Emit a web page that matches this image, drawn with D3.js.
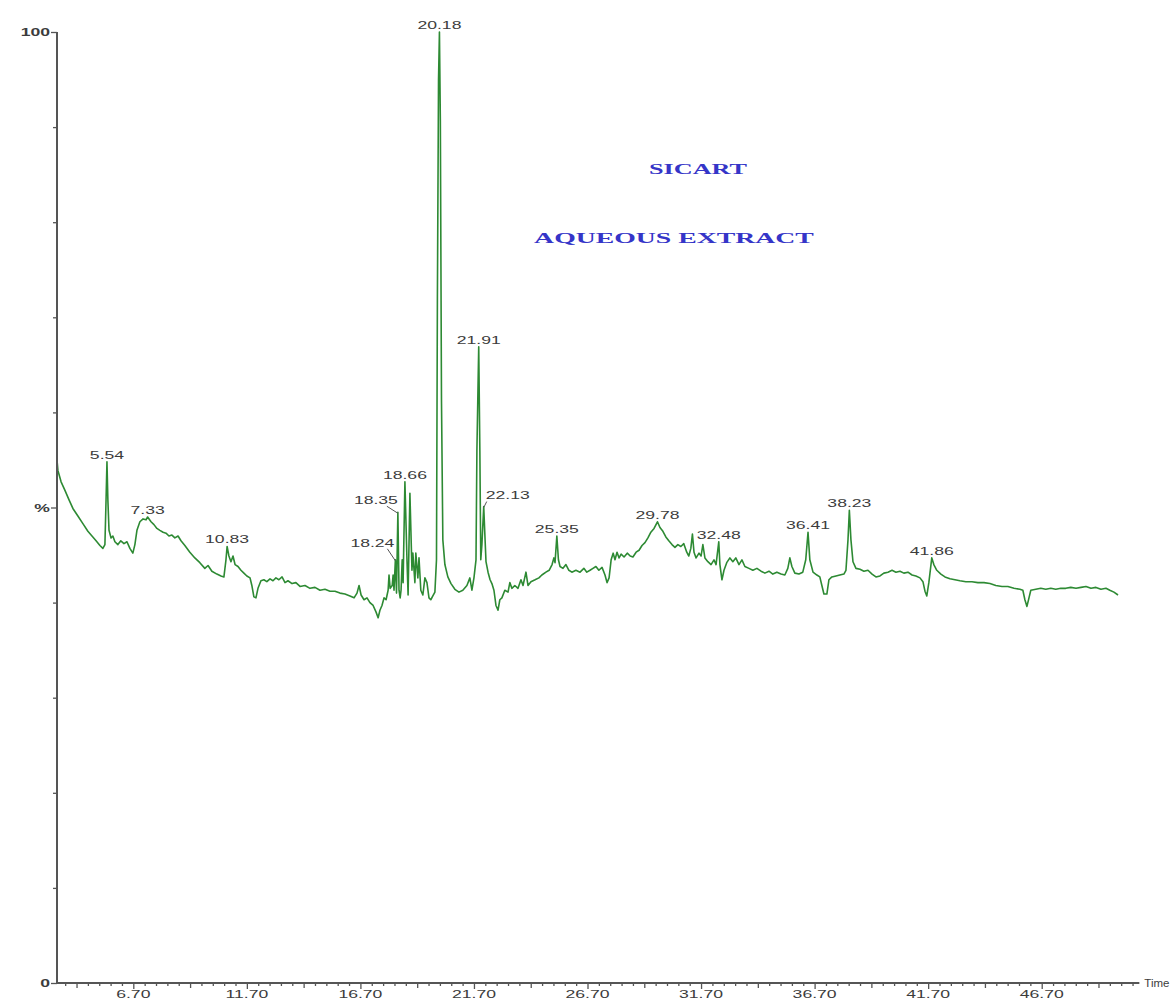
<!DOCTYPE html>
<html>
<head>
<meta charset="utf-8">
<script src="https://cdn.jsdelivr.net/npm/d3@7"></script>
<style>
  html, body { margin: 0; padding: 0; background: #fff; }
  svg { display: block; }
</style>
</head>
<body>
<svg id="chart" width="1170" height="1000"></svg>
<script>
// Total ion chromatogram: retention time (min) vs relative abundance (%)
const trace = [
  [3.34,55.0],[3.38,53.9],[3.52,52.7],[3.69,51.8],[3.87,50.8],[4.04,49.9],[4.26,49.1],[4.48,48.3],
  [4.70,47.5],[4.88,47.0],[5.06,46.5],[5.23,46.0],[5.36,45.7],[5.45,46.1],[5.50,50.8],[5.54,54.8],
  [5.58,50.8],[5.63,47.6],[5.72,46.8],[5.80,47.0],[5.89,46.4],[6.02,46.1],[6.15,46.5],[6.29,46.2],
  [6.42,46.4],[6.55,45.7],[6.68,45.2],[6.77,46.1],[6.86,47.6],[6.99,48.5],[7.13,48.8],[7.26,48.7],
  [7.33,49.0],[7.48,48.5],[7.61,48.2],[7.74,47.8],[7.87,47.6],[8.01,47.4],[8.14,47.3],[8.27,47.0],
  [8.40,47.1],[8.53,46.8],[8.67,47.0],[8.80,46.5],[8.97,46.0],[9.19,45.3],[9.41,44.7],[9.63,44.2],
  [9.85,43.6],[9.99,43.9],[10.16,43.3],[10.38,43.0],[10.56,42.8],[10.69,42.7],[10.78,44.5],[10.83,45.9],
  [10.91,44.9],[11.00,44.3],[11.09,44.9],[11.18,44.0],[11.31,43.8],[11.44,43.4],[11.57,43.1],[11.70,42.8],
  [11.84,42.6],[11.92,41.8],[12.01,40.6],[12.10,40.5],[12.19,41.5],[12.32,42.3],[12.45,42.4],[12.58,42.2],
  [12.72,42.5],[12.85,42.3],[12.98,42.6],[13.11,42.4],[13.25,42.7],[13.38,42.1],[13.51,42.3],[13.69,42.0],
  [13.86,42.1],[14.04,41.7],[14.26,41.8],[14.48,41.5],[14.70,41.6],[14.92,41.3],[15.14,41.4],[15.36,41.2],
  [15.58,41.2],[15.80,41.0],[16.02,40.9],[16.24,40.7],[16.42,40.5],[16.55,41.0],[16.64,41.8],[16.73,40.8],
  [16.86,40.3],[16.99,40.5],[17.12,40.0],[17.26,39.7],[17.39,39.0],[17.48,38.4],[17.56,39.2],[17.65,39.7],
  [17.74,40.5],[17.83,40.3],[17.92,41.3],[17.96,42.9],[18.01,41.5],[18.10,41.8],[18.14,42.9],[18.18,41.3],
  [18.24,44.5],[18.29,41.0],[18.35,49.5],[18.40,41.3],[18.45,40.5],[18.49,41.3],[18.54,44.5],[18.58,42.1],
  [18.66,52.7],[18.75,44.5],[18.80,40.8],[18.88,51.5],[18.97,43.4],[19.01,45.2],[19.10,42.1],[19.14,45.2],
  [19.23,42.6],[19.28,44.7],[19.36,41.3],[19.45,40.8],[19.54,42.6],[19.63,42.1],[19.72,40.5],[19.80,40.3],
  [19.89,40.7],[19.98,41.1],[20.05,44.5],[20.09,71.8],[20.14,95.0],[20.18,100.0],[20.22,90.7],[20.27,61.3],
  [20.33,46.6],[20.42,44.0],[20.55,42.7],[20.69,42.0],[20.86,41.4],[21.04,41.1],[21.21,41.3],[21.39,41.8],
  [21.52,42.6],[21.61,41.3],[21.70,42.6],[21.79,44.5],[21.83,56.0],[21.91,66.9],[21.96,56.0],[22.00,44.5],
  [22.05,46.1],[22.13,50.1],[22.19,46.6],[22.23,44.3],[22.32,43.2],[22.41,42.4],[22.49,42.0],[22.58,41.3],
  [22.67,39.7],[22.76,39.2],[22.84,40.3],[22.93,40.5],[23.06,41.3],[23.20,41.1],[23.28,42.1],[23.37,41.5],
  [23.50,41.8],[23.64,41.5],[23.77,42.4],[23.86,41.8],[23.99,43.2],[24.08,41.8],[24.21,42.2],[24.39,42.4],
  [24.56,42.6],[24.69,42.9],[24.87,43.2],[25.01,43.4],[25.14,44.0],[25.22,44.7],[25.27,44.2],[25.35,47.0],
  [25.42,44.5],[25.49,43.8],[25.62,43.6],[25.75,44.0],[25.88,43.4],[26.01,43.2],[26.19,43.4],[26.37,43.2],
  [26.54,43.6],[26.67,43.2],[26.81,43.4],[26.94,43.6],[27.07,43.8],[27.20,43.4],[27.34,43.7],[27.47,42.9],
  [27.56,42.1],[27.65,42.6],[27.74,44.5],[27.83,45.2],[27.91,44.5],[28.00,45.3],[28.09,44.7],[28.18,45.1],
  [28.31,44.8],[28.45,45.2],[28.58,44.9],[28.70,44.8],[28.84,45.3],[28.97,45.5],[29.10,46.0],[29.23,46.3],
  [29.36,46.8],[29.49,47.4],[29.63,47.8],[29.78,48.5],[29.89,47.9],[30.02,47.5],[30.15,46.9],[30.28,46.5],
  [30.42,46.1],[30.55,45.8],[30.68,46.1],[30.81,45.9],[30.94,46.2],[31.07,45.3],[31.16,44.9],[31.25,45.7],
  [31.32,47.2],[31.39,45.3],[31.48,44.7],[31.61,45.2],[31.70,44.9],[31.78,46.1],[31.87,44.7],[32.00,44.3],
  [32.14,44.0],[32.27,44.5],[32.36,44.0],[32.48,46.4],[32.53,44.0],[32.62,42.4],[32.71,43.4],[32.83,44.2],
  [32.97,44.7],[33.10,44.3],[33.23,44.7],[33.37,44.0],[33.50,44.5],[33.63,43.8],[33.81,43.6],[33.98,43.4],
  [34.16,43.6],[34.34,43.3],[34.51,43.1],[34.69,43.3],[34.86,43.0],[35.04,43.2],[35.22,43.0],[35.39,42.9],
  [35.52,43.6],[35.61,44.7],[35.70,43.8],[35.83,43.1],[36.01,43.0],[36.18,43.2],[36.31,44.5],[36.41,47.4],
  [36.49,44.5],[36.63,43.2],[36.80,42.9],[36.93,42.7],[37.02,41.8],[37.11,40.9],[37.24,40.9],[37.33,42.4],
  [37.46,42.7],[37.64,42.8],[37.81,42.9],[37.99,43.0],[38.08,43.4],[38.17,46.6],[38.23,49.7],[38.30,46.6],
  [38.39,44.3],[38.52,43.6],[38.70,43.5],[38.87,43.3],[39.05,43.4],[39.23,43.0],[39.40,42.7],[39.58,42.8],
  [39.75,43.1],[39.93,43.2],[40.11,43.4],[40.28,43.2],[40.46,43.3],[40.63,43.1],[40.81,43.2],[40.99,42.9],
  [41.16,42.8],[41.34,42.6],[41.47,42.2],[41.56,41.2],[41.64,40.7],[41.73,42.1],[41.86,44.7],[41.95,44.0],
  [42.08,43.4],[42.26,43.0],[42.44,42.7],[42.66,42.5],[42.88,42.4],[43.10,42.3],[43.36,42.2],[43.63,42.2],
  [43.89,42.1],[44.16,42.1],[44.42,42.0],[44.68,41.8],[44.95,41.7],[45.21,41.7],[45.48,41.5],[45.74,41.4],
  [45.87,41.3],[45.96,40.3],[46.05,39.6],[46.14,40.5],[46.22,41.3],[46.44,41.4],[46.66,41.5],[46.88,41.4],
  [47.10,41.5],[47.32,41.4],[47.54,41.5],[47.76,41.5],[47.98,41.6],[48.21,41.5],[48.43,41.6],[48.65,41.7],
  [48.87,41.5],[49.09,41.6],[49.31,41.4],[49.53,41.5],[49.70,41.3],[49.88,41.1],[50.06,40.8]
];

// Labelled peaks (retention times, min)
const peakTimes = [5.54, 7.33, 10.83, 18.24, 18.35, 18.66, 20.18, 21.91, 22.13, 25.35, 29.78, 32.48, 36.41, 38.23, 41.86];

// Time axis labels and the visible time window
const timeTickLabels = ["6.70", "11.70", "16.70", "21.70", "26.70", "31.70", "36.70", "41.70", "46.70"];
const timeWindow = [3.34, 51.0];

// Abundance axis
const abundanceTicks = [0, 10, 20, 30, 40, 50, 60, 70, 80, 90, 100];
const abundanceLabels = {0: "0", 50: "%", 100: "100"};

const titleLines = ["SICART", "AQUEOUS EXTRACT"];

// ---- layout ----
const plotLeft = 57, plotBottom = 983, plotTop = 32;
const pxPerMin = 22.71;
const plotRight = plotLeft + (timeWindow[1] - timeWindow[0]) * pxPerMin;
const svg = d3.select("#chart");

const x = d3.scaleLinear().domain(timeWindow).range([plotLeft, plotRight]);
const y = d3.scaleLinear().domain([0, 100]).range([plotBottom, plotTop]);

const axisColor = "#555";
const labelColor = "#3c3c3c";
const traceColor = "#2d8a33";
const sans = "Liberation Sans, Arial, sans-serif";

// ---- trace ----
const line = d3.line().x(d => x(d[0])).y(d => y(d[1]));
svg.append("path")
  .datum(trace)
  .attr("d", line)
  .attr("fill", "none")
  .attr("stroke", traceColor)
  .attr("stroke-width", 1.6)
  .attr("stroke-linejoin", "round");

// ---- abundance axis ----
const yAxis = d3.axisLeft(y)
  .tickValues(abundanceTicks)
  .tickSize(0)
  .tickFormat(d => abundanceLabels[d] || "");
const gy = svg.append("g").attr("transform", `translate(${plotLeft},0)`).call(yAxis);
gy.select(".domain").remove();
gy.selectAll(".tick line")
  .attr("x2", d => (d in abundanceLabels ? -6 : -4))
  .attr("stroke", axisColor).attr("stroke-width", 1.3);
gy.selectAll(".tick text")
  .attr("x", -7 / 1.6)
  .attr("transform", "scale(1.6,1)")
  .attr("fill", labelColor)
  .attr("font-family", sans)
  .attr("font-size", 11)
  .attr("font-weight", "bold")
  .attr("dy", "0.35em");
svg.append("line")
  .attr("x1", plotLeft).attr("x2", plotLeft)
  .attr("y1", y(100)).attr("y2", y(0))
  .attr("stroke", axisColor).attr("stroke-width", 2);

// ---- time axis ----
const labelValues = timeTickLabels.map(Number);
const minorTicks = d3.range(0, 96).map(i => +(3.70 + i * 0.5).toFixed(2)).filter(t => t <= timeWindow[1]);
const xAxis = d3.axisBottom(x)
  .tickValues(minorTicks)
  .tickSize(0)
  .tickFormat("");
const gx = svg.append("g").attr("transform", `translate(0,${plotBottom})`).call(xAxis);
gx.select(".domain").remove();
gx.selectAll(".tick line")
  .attr("y2", d => {
    const k = Math.round((d - 6.70) / 2.5 * 100) / 100;
    if (labelValues.some(v => Math.abs(v - d) < 1e-6)) return 6;
    return Number.isInteger(k) ? 5 : 3;
  })
  .attr("stroke", axisColor).attr("stroke-width", 1.3);
svg.append("line")
  .attr("x1", plotLeft).attr("x2", plotRight)
  .attr("y1", plotBottom).attr("y2", plotBottom)
  .attr("stroke", axisColor).attr("stroke-width", 1.8);

svg.append("g").selectAll("text")
  .data(timeTickLabels)
  .join("text")
  .attr("transform", d => `translate(${x(+d)},998) scale(1.6,1)`)
  .attr("text-anchor", "middle")
  .attr("fill", labelColor)
  .attr("font-family", sans)
  .attr("font-size", 11)
  .text(d => d);

svg.append("text")
  .attr("transform", `translate(${plotRight + 5},${plotBottom + 4}) scale(1.15,1)`)
  .attr("fill", labelColor)
  .attr("font-family", sans)
  .attr("font-size", 10)
  .text("Time");

// ---- peak labels ----
// callout offsets (px) for crowded peaks, relative to the apex
const callouts = {
  18.24: {dx: -23, dy: -13, lx: 15, ly: 2},
  18.35: {dx: -22, dy: -8, lx: 11, ly: 2},
  22.13: {dx: 24, dy: -8, lx: -21, ly: 3}
};
const apex = t => {
  const p = trace.reduce((a, b) => Math.abs(b[0] - t) < Math.abs(a[0] - t) ? b : a);
  return [x(p[0]), y(p[1])];
};

const gp = svg.append("g");
peakTimes.forEach(t => {
  const [ax, ay] = apex(t);
  const c = callouts[t];
  const tx = c ? ax + c.dx : ax;
  const ty = c ? ay + c.dy : ay - 3;
  gp.append("text")
    .attr("transform", `translate(${tx},${ty}) scale(1.6,1)`)
    .attr("text-anchor", "middle")
    .attr("fill", labelColor)
    .attr("font-family", sans)
    .attr("font-size", 11)
    .text(t.toFixed(2));
  if (c) {
    gp.append("line")
      .attr("x1", tx + c.lx).attr("y1", ty + c.ly)
      .attr("x2", ax).attr("y2", ay + 1)
      .attr("stroke", "#555").attr("stroke-width", 1);
  }
});

// ---- title ----
svg.append("text")
  .attr("transform", "translate(698,174) scale(1.75,1)")
  .attr("text-anchor", "middle")
  .attr("fill", "#3535c8")
  .attr("font-family", "Liberation Serif, Times New Roman, serif")
  .attr("font-weight", "bold")
  .attr("font-size", 15)
  .text(titleLines[0]);
svg.append("text")
  .attr("transform", "translate(674,243) scale(1.85,1)")
  .attr("text-anchor", "middle")
  .attr("fill", "#3535c8")
  .attr("font-family", "Liberation Serif, Times New Roman, serif")
  .attr("font-weight", "bold")
  .attr("font-size", 15)
  .text(titleLines[1]);
</script>
</body>
</html>
